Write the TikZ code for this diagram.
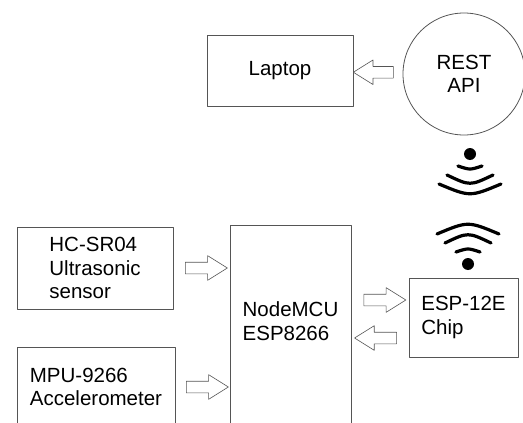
\documentclass[tikz,border=0pt]{standalone}
\usepackage{fontspec}
\setmainfont{Liberation Sans}
\usetikzlibrary{shapes.arrows,calc}
\definecolor{edge}{HTML}{555555}
\tikzset{
  every picture/.style={line join=round, x=1pt, y=1pt},
  label/.style={align=left, inner sep=0pt, font=\fontsize{20.5}{23.5}\selectfont},
  box/.style={label, draw=edge, line width=0.8pt, rectangle},
  hollow/.style={single arrow, draw=edge, line width=0.6pt, inner sep=0pt, minimum height=42pt,
    text height=5.5pt, text depth=5.5pt, single arrow head extend=6.5pt, single arrow tip angle=64},
  wave/.style={line width=3.2pt, line cap=round},
}

\begin{document}
\begin{tikzpicture}
\useasboundingbox (0,0) rectangle (523,-423);
\clip (0,0) rectangle (523,-423);
% blocks
\node[box, minimum width=146pt, minimum height=71pt] (laptop) at (280,-70.5) {Laptop};
\node[box, circle, minimum size=122pt, align=center] (rest) at (464,-74) {REST\\API};
\node[box, minimum width=156pt, minimum height=82pt] (hc) at (95,-268) {HC-SR04\\Ultrasonic\\sensor};
\node[box, minimum width=158pt, minimum height=80pt] (mpu) at (96,-387) {MPU-9266\\Accelerometer};
\node[box, minimum width=121pt, minimum height=215pt, anchor=north west] (mcu) at (230,-225) {};
\node[label] (mcutext) at (290.5,-321) {NodeMCU\\ESP8266};
\node[box, minimum width=109pt, minimum height=79pt] (esp) at (463.5,-317.5) {ESP-12E\\Chip};
\coordinate (tx) at ([yshift=17.5pt]esp.west);
\coordinate (rx) at ([yshift=-20.5pt]esp.west);
% hollow arrows
\node[hollow, minimum height=40pt, shape border rotate=180] (fromrest) at ($(laptop.east)!.5!(rest.west)$) {};
\node[hollow] (fromhc) at ($(hc.east)!.5!(hc.east -| mcu.west)$) {};
\node[hollow] (frommpu) at ($(mpu.east)!.5!(mpu.east -| mcu.west)$) {};
\node[hollow] (toesp) at ($(tx -| mcu.east)!.5!(tx)$) {};
\node[hollow, shape border rotate=180] (fromesp) at ($(rx -| mcu.east)!.5!(rx)$) {};
% wireless link
\coordinate (sigtop) at (470,-154);
\coordinate (sigbot) at (468,-264);
\fill (sigtop) circle[radius=6];
\fill (sigbot) circle[radius=6];
\foreach \w/\e/\c in {12/12/16, 23/21/32, 31/30/43} {
  \draw[wave] ([shift={(-\w,-\e)}]sigtop) .. controls ([shift={(0,-\c)}]sigtop) .. ([shift={(\w,-\e)}]sigtop);
  \draw[wave] ([shift={(-\w,\e)}]sigbot) .. controls ([shift={(0,\c)}]sigbot) .. ([shift={(\w,\e)}]sigbot);
}
\end{tikzpicture}
\end{document}
